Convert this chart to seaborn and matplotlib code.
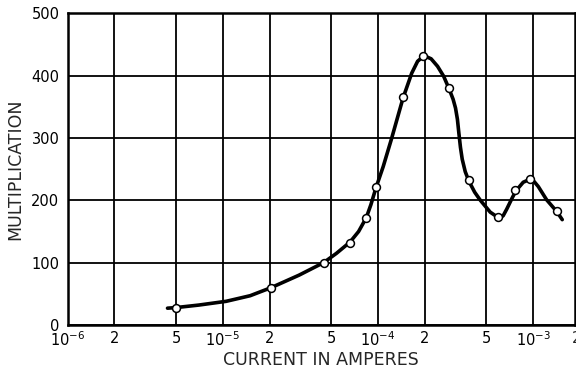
import numpy as np
import pandas as pd
import matplotlib
matplotlib.use("Agg")
import matplotlib.pyplot as plt
import matplotlib.transforms as mtransforms
import seaborn as sns

# ---- data ----
marker_current = [5.0e-6, 2.05e-5, 4.46e-5, 6.6e-5, 8.4e-5, 9.7e-5, 1.45e-4,
                  1.96e-4, 2.88e-4, 3.85e-4, 5.95e-4, 7.67e-4, 9.6e-4, 1.42e-3]
marker_mult = [27, 60, 100, 132, 171, 221, 365, 432, 380, 233, 173, 216, 234, 183]

curve_current = [4.4e-6, 5.0e-6, 7.0e-6, 1.05e-5, 1.5e-5, 2.05e-5, 3.1e-5, 4.46e-5,
                 5.4e-5, 6.6e-5, 7.5e-5, 8.4e-5, 9.0e-5, 9.7e-5, 1.08e-4, 1.22e-4,
                 1.45e-4, 1.65e-4, 1.8e-4, 1.98e-4, 2.2e-4, 2.42e-4, 2.65e-4, 2.87e-4,
                 3.05e-4, 3.16e-4, 3.25e-4, 3.32e-4, 3.4e-4, 3.49e-4, 3.65e-4, 3.85e-4,
                 4.2e-4, 4.57e-4, 5.29e-4, 5.98e-4, 6.4e-4, 6.76e-4, 7.3e-4, 7.73e-4,
                 8.63e-4, 9.57e-4, 1.0e-3, 1.08e-3, 1.22e-3, 1.42e-3, 1.54e-3]
curve_mult = [27, 28, 32, 38, 47, 60, 80, 100,
              115, 133, 150, 172, 193, 220, 254, 298,
              364, 404, 423, 432, 427, 415, 399, 379,
              362, 348, 330, 308, 285, 266, 246, 231,
              213, 200, 181, 172, 175, 186, 203, 215,
              229, 234, 232, 222, 201, 182, 169]

xtick_values = [1e-6, 2e-6, 5e-6, 1e-5, 2e-5, 5e-5, 1e-4, 2e-4, 5e-4, 1e-3]
xtick_labels = [r"$10^{-6}$", "2", "5", r"$10^{-5}$", "2", "5",
                r"$10^{-4}$", "2", "5", r"$10^{-3}$"]
edge_label = "2"
ytick_values = [0, 100, 200, 300, 400, 500]
ytick_labels = ["0", "100", "200", "300", "400", "500"]

curve_df = pd.DataFrame({"current": curve_current, "mult": curve_mult})
marker_df = pd.DataFrame({"current": marker_current, "mult": marker_mult})

sns.set_style("white")
plt.rcParams["font.family"] = ["DejaVu Sans"]

fig = plt.figure(figsize=(5.76, 3.68), dpi=100)
ax = fig.add_axes([0.1175, 0.1168, 0.8807, 0.8471])

ax.set_xscale("log")
ax.set_xlim(1e-6, 1.86e-3)
ax.set_ylim(0, 500)

sns.lineplot(data=curve_df, x="current", y="mult", ax=ax, sort=False,
             estimator=None, color="black", linewidth=2.6, zorder=3)
sns.scatterplot(data=marker_df, x="current", y="mult", ax=ax, s=32,
                color="white", edgecolor="black", linewidth=1.1, zorder=4)

ax.set_xticks(xtick_values)
ax.set_xticklabels(xtick_labels)
ax.xaxis.set_minor_locator(matplotlib.ticker.NullLocator())
ax.set_yticks(ytick_values)
ax.set_yticklabels(ytick_labels)
ax.tick_params(axis="both", length=0, labelsize=10.5, colors="black")
ax.tick_params(axis="x", pad=4)
ax.tick_params(axis="y", pad=6)

ax.grid(True, color="black", linewidth=1.3)
ax.set_axisbelow(True)
for sp in ax.spines.values():
    sp.set_color("black")
    sp.set_linewidth(1.8)
    sp.set_visible(True)

# the "2" at the right edge, cut by the picture's edge as in the reference
offset = mtransforms.ScaledTranslation(0, -4 / 72, fig.dpi_scale_trans)
ax.text(0.994, 0.0, edge_label, transform=ax.transAxes + offset, ha="left",
        va="top", fontsize=10.5, clip_on=False)

ax.set_xlabel("CURRENT IN AMPERES", fontsize=12.5, labelpad=1)
ax.set_ylabel("MULTIPLICATION", fontsize=12.5, labelpad=5)

fig.savefig("out.png", dpi=100)
